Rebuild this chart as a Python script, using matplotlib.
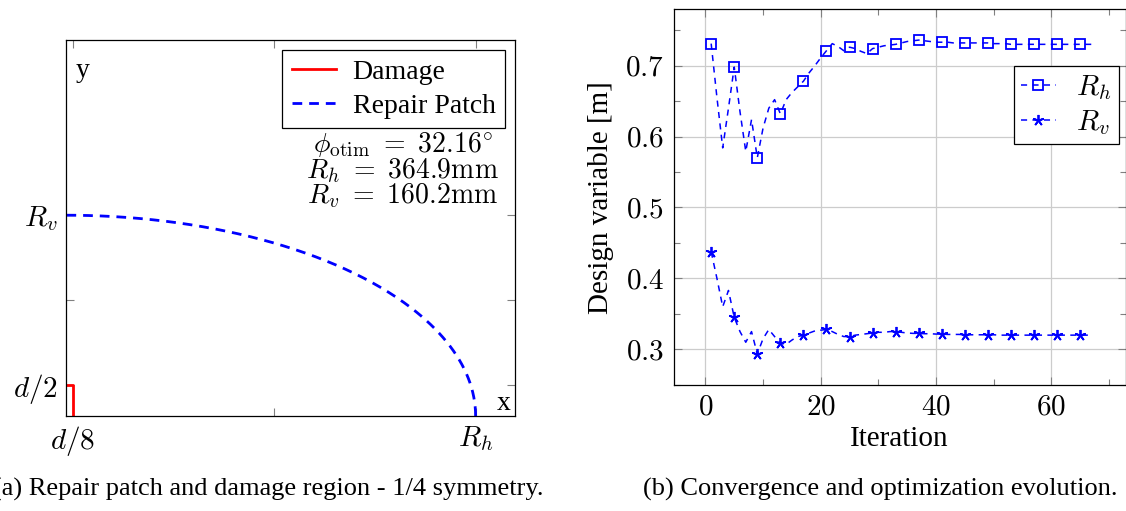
import numpy as np
from matplotlib import pyplot as plt
from matplotlib.ticker import MultipleLocator, FuncFormatter

plt.rcParams["font.family"] = ["Liberation Serif", "DejaVu Serif"]
plt.rcParams["mathtext.fontset"] = "cm"

# left panel geometry [mm]
Rh = 364.9
Rv = 160.2
d = 50.0
phi_otim = 32.16

# right panel: design variables per iteration [m]
iterations = np.arange(1, 68)
rh_hist = [0.731, 0.655, 0.584, 0.640, 0.698, 0.635, 0.579, 0.624, 0.570, 0.612,
           0.640, 0.652, 0.632, 0.652, 0.662, 0.670, 0.678, 0.690, 0.700, 0.711,
           0.721, 0.731, 0.727, 0.721, 0.726, 0.724, 0.720, 0.717, 0.724, 0.726,
           0.728, 0.729, 0.730, 0.732, 0.734, 0.735, 0.736, 0.735, 0.734, 0.733,
           0.733, 0.733, 0.732, 0.732, 0.732, 0.732, 0.732, 0.732, 0.732, 0.731,
           0.731, 0.731, 0.730, 0.730, 0.730, 0.730, 0.730, 0.730, 0.730, 0.730,
           0.730, 0.730, 0.730, 0.730, 0.730, 0.730, 0.730]
rv_hist = [0.4375, 0.400, 0.360, 0.383, 0.345, 0.325, 0.310, 0.325, 0.2934, 0.315,
           0.328, 0.318, 0.309, 0.307, 0.313, 0.318, 0.320, 0.323, 0.326, 0.327,
           0.328, 0.325, 0.321, 0.318, 0.318, 0.320, 0.321, 0.322, 0.323, 0.324,
           0.324, 0.325, 0.325, 0.324, 0.323, 0.3225, 0.3225, 0.322, 0.322, 0.3215,
           0.3215, 0.321, 0.321, 0.321, 0.3205, 0.3205, 0.3205, 0.3205, 0.3205, 0.3205,
           0.320, 0.320, 0.320, 0.320, 0.320, 0.320, 0.320, 0.320, 0.320, 0.320,
           0.320, 0.320, 0.320, 0.320, 0.320, 0.320, 0.320]

fig = plt.figure(figsize=(11.26, 5.11), dpi=100)

# ---------------- (a) repair patch ----------------
ax1 = fig.add_axes([66 / 1126, 1 - 416 / 511, 449 / 1126, 376 / 511])
t = np.linspace(0, np.pi / 2, 200)
ax1.plot([0, d / 8, d / 8], [d / 2, d / 2, 0], color="red", lw=2.0, label="Damage")
ax1.plot(Rh * np.cos(t), Rv * np.sin(t), color="blue", lw=2.0,
         linestyle=(0, (3.5, 2.5)), label="Repair Patch")
ax1.set_xlim(0, 400)
ax1.set_ylim(0, 300)
ax1.set_xticks([d / 8, (d / 8 + Rh) / 2, Rh])
ax1.set_xticklabels(["$d/8$", "", "$R_h$"])
ax1.set_yticks([d / 2, (d / 2 + Rv) / 2, Rv])
ax1.set_yticklabels(["$d/2$", "", "$R_v$"])
ax1.tick_params(direction="in", top=True, right=True, length=6, width=0.8,
                color="gray", labelsize=21, pad=6)
for s in ax1.spines.values():
    s.set_linewidth(0.9)
ax1.text(9, 286, "y", fontsize=20, va="top", ha="left")
ax1.text(384, 0, "x", fontsize=20, va="bottom", ha="left")
ax1.text(300, 196, r"$\phi_{\rm otim}\ =\ %.2f^{\!\circ}$" % phi_otim + "\n"
         + r"$R_h\ =\ %.1f\mathrm{mm}$" % Rh + "\n"
         + r"$R_v\ =\ %.1f\mathrm{mm}$" % Rv,
         fontsize=20, ha="center", va="center", linespacing=0.85)
leg1 = ax1.legend(loc="upper right", fontsize=20, frameon=True, fancybox=False,
                  edgecolor="black", framealpha=1, handlelength=1.6,
                  borderaxespad=0.35, borderpad=0.35, labelspacing=0.3,
                  handletextpad=0.6)
leg1.get_frame().set_linewidth(0.9)
fig.text(0.238, 0.043, "(a) Repair patch and damage region - 1/4 symmetry.",
         fontsize=19, ha="center", va="center")

# ---------------- (b) convergence ----------------
ax2 = fig.add_axes([673.7 / 1126, 1 - 385 / 511, 452 / 1126, 375.7 / 511])
ax2.plot(iterations, rh_hist, color="blue", lw=1.1, linestyle=(0, (4, 3.5)),
         marker="s", markevery=4, markersize=7.5, markerfacecolor="none",
         markeredgewidth=1.3, label="$R_h$")
ax2.plot(iterations, rv_hist, color="blue", lw=1.1, linestyle=(0, (4, 3.5)),
         marker=(5, 2, 0), markevery=4, markersize=8, markeredgewidth=1.3,
         label="$R_v$")
ax2.set_xlim(-5.5, 72.9)
ax2.set_ylim(0.2497, 0.7794)
ax2.xaxis.set_major_locator(MultipleLocator(20))
ax2.xaxis.set_minor_locator(MultipleLocator(10))
ax2.yaxis.set_major_locator(MultipleLocator(0.1))
ax2.yaxis.set_minor_locator(MultipleLocator(0.05))
ax2.xaxis.set_major_formatter(FuncFormatter(lambda v, p: "$%d$" % round(v)))
ax2.yaxis.set_major_formatter(FuncFormatter(lambda v, p: "$%.1f$" % v))
ax2.grid(True, which="major", color="#cccccc", lw=0.9)
ax2.set_axisbelow(True)
ax2.tick_params(which="both", direction="in", top=True, right=True,
                color="gray", width=0.8, labelsize=21, pad=7)
ax2.tick_params(which="major", length=6)
ax2.tick_params(which="minor", length=4)
for s in ax2.spines.values():
    s.set_linewidth(0.9)
ax2.set_xlabel("Iteration", fontsize=21, labelpad=4)
ax2.set_ylabel("Design variable [m]", fontsize=21, labelpad=8)
leg2 = ax2.legend(loc="upper right", bbox_to_anchor=(0.985, 0.849), fontsize=21,
                  frameon=True, fancybox=False, edgecolor="black", framealpha=1,
                  borderaxespad=0, handlelength=1.2, borderpad=0.25,
                  labelspacing=0.2, handletextpad=0.7)
leg2.get_frame().set_linewidth(0.9)
fig.text(0.782, 0.043, "(b) Convergence and optimization evolution.",
         fontsize=19, ha="center", va="center")

fig.savefig("out.png", dpi=100)
